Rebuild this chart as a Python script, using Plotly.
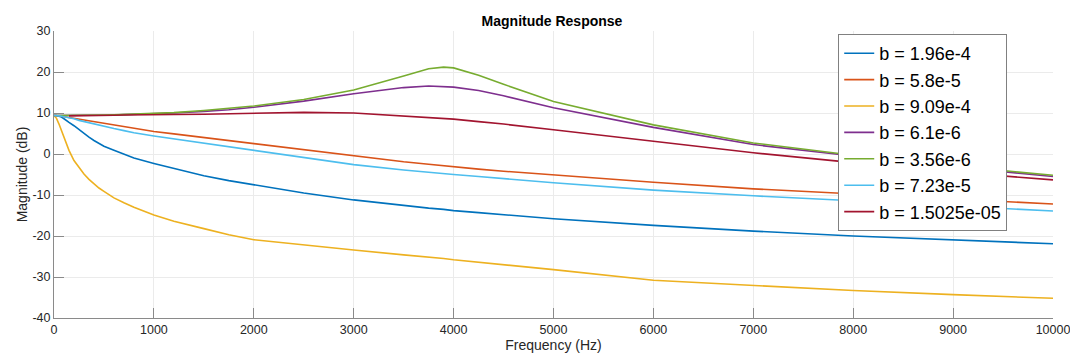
import plotly.graph_objects as go

freq = [0, 25, 50, 75, 100, 125, 150, 200, 250, 300, 350, 400, 450, 500, 600, 700, 800,
        1000, 1200, 1500, 1750, 2000,
        2500, 3000, 3500, 3750, 3900, 4000, 4250, 4500, 5000, 6000, 7000, 8000, 9000, 10000]

labels = ["b = 1.96e-4", "b = 5.8e-5", "b = 9.09e-4", "b = 6.1e-6",
          "b = 3.56e-6", "b = 7.23e-5", "b = 1.5025e-05"]

mag_b1 = [9.4, 9.4, 9.2, 9.0, 8.6, 8.1, 7.7, 6.9, 5.9, 4.9, 4.1, 3.3, 2.6, 1.9, 0.9, -0.1, -1.0,
          -2.3, -3.5, -5.3, -6.5, -7.5,
          -9.5, -11.2, -12.6, -13.2, -13.5, -13.8, -14.3, -14.8, -15.8, -17.4, -18.8, -20.0, -20.9, -21.9]
mag_b2 = [9.4, 9.4, 9.3, 9.2, 9.1, 9.0, 8.9, 8.7, 8.5, 8.3, 8.1, 7.8, 7.6, 7.4, 7.0, 6.6, 6.2,
          5.5, 4.9, 4.0, 3.3, 2.6,
          1.0, -0.5, -1.9, -2.5, -2.9, -3.2, -3.7, -4.2, -5.1, -6.9, -8.5, -9.7, -11.0, -12.2]
mag_b3 = [9.4, 8.7, 7.3, 5.6, 3.9, 2.3, 0.9, -1.6, -3.4, -4.9, -6.2, -7.3, -8.3, -9.1, -10.7, -11.9, -13.0,
          -14.9, -16.4, -18.2, -19.7, -20.9,
          -22.2, -23.4, -24.6, -25.1, -25.5, -25.8, -26.4, -27.0, -28.2, -30.8, -32.0, -33.3, -34.3, -35.2]
mag_b4 = [9.4, 9.4, 9.4, 9.35, 9.35, 9.35, 9.35, 9.35, 9.35, 9.35, 9.4, 9.4, 9.45, 9.45, 9.5, 9.6, 9.65,
          9.8, 10.0, 10.4, 10.8, 11.4,
          12.9, 14.7, 16.2, 16.6, 16.5, 16.3, 15.5, 14.2, 11.3, 6.5, 2.3, -0.5, -3.1, -5.5]
mag_b5 = [9.4, 9.4, 9.4, 9.35, 9.35, 9.35, 9.35, 9.35, 9.4, 9.4, 9.45, 9.45, 9.5, 9.5, 9.55, 9.65, 9.7,
          9.85, 10.1, 10.6, 11.1, 11.7,
          13.3, 15.6, 19.0, 20.8, 21.2, 21.0, 19.2, 17.0, 12.8, 7.1, 2.7, -0.3, -2.9, -5.2]
mag_b6 = [9.4, 9.4, 9.3, 9.2, 9.1, 9.0, 8.9, 8.6, 8.2, 7.9, 7.6, 7.4, 7.1, 6.8, 6.2, 5.7, 5.2,
          4.4, 3.7, 2.5, 1.6, 0.8,
          -1.0, -2.6, -3.9, -4.5, -4.8, -5.0, -5.5, -6.0, -7.0, -8.8, -10.2, -11.4, -12.6, -13.9]
mag_b7 = [None, None, None, None, None, None, 9.3, 9.3, 9.3, 9.3, 9.35, 9.35, 9.4, 9.4, 9.45, 9.5, 9.5,
          9.6, 9.65, 9.7, 9.85, 10.0,
          10.15, 10.0, 9.3, 8.9, 8.65, 8.5, 7.9, 7.3, 5.9, 3.1, 0.3, -2.1, -4.4, -6.3]

series = [mag_b1, mag_b2, mag_b3, mag_b4, mag_b5, mag_b6, mag_b7]
colors = ["#0072BD", "#D95319", "#EDB120", "#7E2F8E", "#77AC30", "#4DBEEE", "#A2142F"]

x_ticks = [0, 1000, 2000, 3000, 4000, 5000, 6000, 7000, 8000, 9000, 10000]
x_ticktext = ["0", "1000", "2000", "3000", "4000", "5000", "6000", "7000", "8000", "9000", "10000"]
y_ticks = [-40, -30, -20, -10, 0, 10, 20, 30]
y_ticktext = ["-40", "-30", "-20", "-10", "0", "10", "20", "30"]

FONT = "Liberation Sans, Arial, Helvetica, sans-serif"

fig = go.Figure()
for name, vals, col in zip(labels, series, colors):
    fig.add_trace(go.Scatter(x=freq, y=vals, mode="lines", name=name,
                             line=dict(color=col, width=1.6)))

axis_common = dict(showgrid=True, gridcolor="#ebebeb", gridwidth=1,
                   showline=True, linecolor="#8a8a8a", linewidth=1,
                   ticks="inside", ticklen=10, tickcolor="#8a8a8a",
                   zeroline=False, automargin=False, ticklabeloverflow="allow",
                   tickfont=dict(family=FONT, size=12.5, color="#262626"),
                   mirror=False)

fig.update_xaxes(range=[0, 10000], tickvals=x_ticks, ticktext=x_ticktext,
                 title=dict(text="Frequency (Hz)", font=dict(family=FONT, size=14, color="#262626"),
                            standoff=4),
                 **axis_common)
fig.update_yaxes(range=[-40, 30], tickvals=y_ticks, ticktext=y_ticktext,
                 title=dict(text="Magnitude (dB)", font=dict(family=FONT, size=14, color="#262626"),
                            standoff=1),
                 **axis_common)

fig.update_layout(
    width=1070, height=358,
    margin=dict(l=54, r=17, t=31, b=40),
    paper_bgcolor="white", plot_bgcolor="white",
    font=dict(family=FONT, color="#262626"),
    title=dict(text="<b>Magnitude Response</b>", x=552 / 1070, xanchor="center",
               y=1 - 21 / 358, yanchor="middle", yref="container",
               font=dict(family=FONT, size=14, color="#000000")),
    legend=dict(x=0.785, y=0.9895, xanchor="left", yanchor="top",
                bgcolor="white", bordercolor="#808080", borderwidth=1,
                font=dict(family=FONT, size=18, color="#000000"),
                tracegroupgap=0, itemwidth=30),
    showlegend=True,
)

fig.write_html("out.html",
               config={"displayModeBar": False},
               post_script="document.body.style.margin='0';document.body.style.overflow='hidden';")
